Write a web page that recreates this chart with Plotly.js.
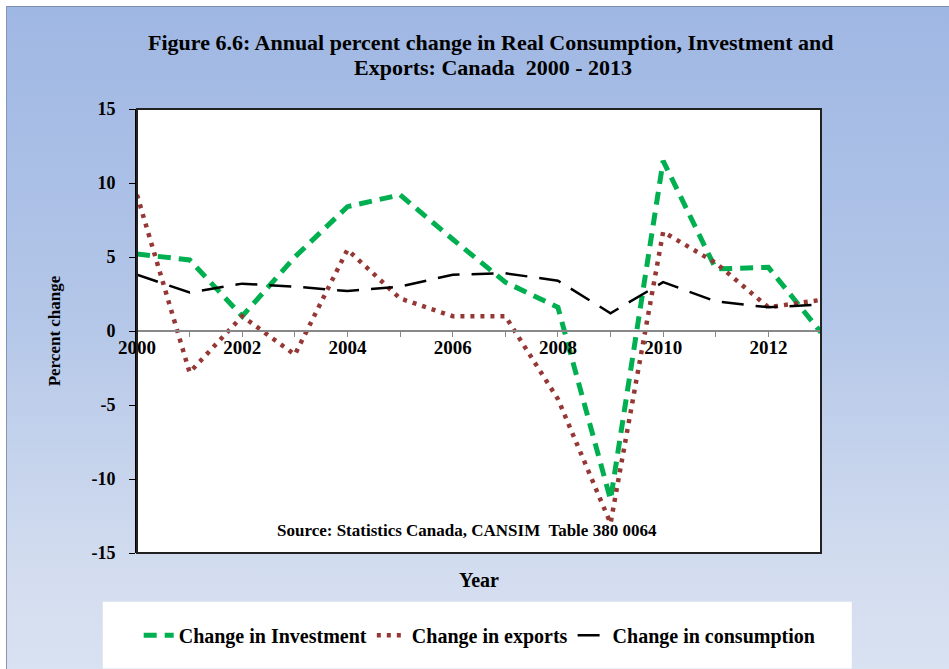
<!DOCTYPE html>
<html>
<head>
<meta charset="utf-8">
<script src="https://cdn.plot.ly/plotly-3.0.1.min.js"></script>
<style>
html,body{margin:0;padding:0;}
body{width:949px;height:669px;overflow:hidden;background:#ffffff;}
#frame{position:absolute;left:6px;top:6px;width:949px;height:669px;border-left:1px solid #8795b4;border-top:1px solid #7f8fb0;
background:linear-gradient(to bottom,#9fb7e3 0%,#b3c6e8 45%,#d3ddef 85%,#d9e2f1 100%);}
#chart{position:absolute;left:0;top:0;width:949px;height:669px;}
</style>
</head>
<body>
<div id="frame"></div>
<div id="chart"></div>
<script>
const years = [2000,2001,2002,2003,2004,2005,2006,2007,2008,2009,2010,2011,2012,2013];
const investment = [5.2,4.8,1.0,5.0,8.4,9.2,6.2,3.3,1.6,-11.4,11.5,4.2,4.3,-0.1];
const exports = [9.2,-2.8,1.0,-1.6,5.5,2.2,1.0,1.0,-4.6,-13.0,6.7,4.6,1.6,2.1];
const consumption = [3.8,2.6,3.2,3.0,2.7,3.0,3.8,3.9,3.4,1.2,3.3,2.0,1.6,1.8];
const seriesNames = ["Change in Investment","Change in exports","Change in consumption"];
const xTickLabels = ["2000","","2002","","2004","","2006","","2008","","2010","","2012",""];
const yTickVals = [-15,-10,-5,0,5,10,15];
const yTickLabels = ["-15","-10","-5","0","5","10","15"];

const serif = "Liberation Serif, Times New Roman, serif";
const bold = s => s ? "<b>" + s + "</b>" : "";
const traces = [
  {x: years, y: investment, name: bold(seriesNames[0]), type: "scatter", mode: "lines",
   line: {color: "#00b050", width: 5, dash: "13px,8px"}},
  {x: years, y: exports, name: bold(seriesNames[1]), type: "scatter", mode: "lines",
   line: {color: "#953735", width: 4.5, dash: "4px,6px"}},
  {x: years, y: consumption, name: bold(seriesNames[2]), type: "scatter", mode: "lines",
   line: {color: "#000000", width: 2.5, dash: "22px,12px"}}
];

const layout = {
  width: 949, height: 669,
  paper_bgcolor: "rgba(0,0,0,0)",
  plot_bgcolor: "#ffffff",
  margin: {l: 137, r: 128, t: 109, b: 116},
  xaxis: {
    range: [2000, 2013], tickmode: "array", tickvals: years, ticktext: xTickLabels.map(bold),
    anchor: "free", position: 0.5, showgrid: false, zeroline: false,
    showline: true, linecolor: "#888888", linewidth: 2,
    ticks: "outside", ticklen: 5, tickcolor: "#888888", ticklabelstandoff: -6,
    tickfont: {family: serif, size: 19, color: "#000"}
  },
  yaxis: {
    range: [-15, 15], tickmode: "array", tickvals: yTickVals, ticktext: yTickLabels.map(bold),
    showgrid: false, zeroline: false,
    showline: true, linecolor: "#000", linewidth: 2, ticks: "outside", ticklen: 6, tickcolor: "#000",
    ticklabelstandoff: 10,
    tickfont: {family: serif, size: 18, color: "#000"},
    title: {text: "<b>Percent change</b>", font: {family: serif, size: 17, color: "#000"}, standoff: 26}
  },
  showlegend: true,
  legend: {orientation: "h", x: 0.501, xanchor: "center", y: -0.185, yanchor: "middle",
           bgcolor: "rgba(0,0,0,0)", font: {family: serif, size: 20, color: "#000"},
           itemwidth: 30, tracegroupgap: 0},
  shapes: [
    {type: "rect", xref: "paper", yref: "paper", x0: -0.05, x1: 1.045, y0: -0.11, y1: -0.26,
     fillcolor: "#ffffff", line: {width: 0}, layer: "below"},
    {type: "rect", xref: "paper", yref: "paper", x0: 0, x1: 1, y0: 0, y1: 1,
     line: {color: "#222222", width: 2}, layer: "above"}
  ],
  annotations: [
    {text: "<b>Figure 6.6: Annual percent change in Real Consumption, Investment and</b>",
     xref: "paper", yref: "paper", x: 0.518, y: (553 - 43) / 444, xanchor: "center", yanchor: "middle",
     showarrow: false, font: {family: serif, size: 22, color: "#000"}},
    {text: "<b>Exports: Canada  2000 - 2013</b>",
     xref: "paper", yref: "paper", x: 0.52, y: (553 - 68) / 444, xanchor: "center", yanchor: "middle",
     showarrow: false, font: {family: serif, size: 22, color: "#000"}},
    {text: "<b>Source: Statistics Canada, CANSIM  Table 380 0064</b>", xref: "paper", yref: "paper",
     x: 0.482, y: 0.05, xanchor: "center", yanchor: "middle", showarrow: false,
     font: {family: serif, size: 17, color: "#000"}},
    {text: "<b>Year</b>", xref: "paper", yref: "paper", x: 0.5, y: -0.06, xanchor: "center", yanchor: "middle",
     showarrow: false, font: {family: serif, size: 20, color: "#000"}}
  ]
};
Plotly.newPlot("chart", traces, layout, {displayModeBar: false, staticPlot: true});
</script>
</body>
</html>
